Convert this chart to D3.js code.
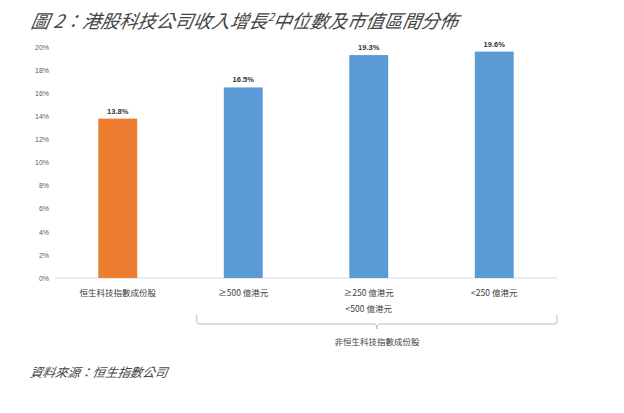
<!DOCTYPE html>
<html><head><meta charset="utf-8">
<script src="https://cdn.jsdelivr.net/npm/d3@7"></script>
<style>body{margin:0;background:#fff;}svg{display:block;}</style>
</head><body>
<svg id="c" width="624" height="413"></svg>
<script>
const categories = ["恒生科技指數成份股", "≥500 億港元", "≥250 億港元\n<500 億港元", "<250 億港元"];
const values = [13.8, 16.5, 19.3, 19.6];
const valueLabels = ["13.8%", "16.5%", "19.3%", "19.6%"];
const yTicks = [0, 2, 4, 6, 8, 10, 12, 14, 16, 18, 20];
const barColors = ["#ED7D31", "#5B9BD5", "#5B9BD5", "#5B9BD5"];
const groupLabel = "非恒生科技指數成份股";
const title = "圖 2：港股科技公司收入增長";
const title2 = "中位數及市值區間分佈";
const source = "資料來源：恒生指數公司";

(function () {
const svg = d3.select("#c");
const font = "'Noto Sans CJK TC','Noto Sans CJK SC',Arial,sans-serif";
const pL = 55, pR = 557, pT = 47, pB = 278;

const x = d3.scaleBand().domain(categories).range([pL, pR]).paddingInner(0.69).paddingOuter(0.345);
const y = d3.scaleLinear().domain([0, 20]).range([pB, pT]);

// title
const t = svg.append("text").attr("x", 30).attr("y", 28)
  .attr("font-family", font).attr("font-size", 18.5).attr("font-style", "italic")
  .attr("fill", "#444").attr("transform", "translate(5,0) skewX(-10)");
t.append("tspan").text(title);
t.append("tspan").attr("font-size", 11).attr("dy", -7).text("2");
t.append("tspan").attr("dy", 7).text(title2);

// y axis labels
const yAxis = d3.axisLeft(y).tickValues(yTicks).tickFormat(d => d + "%").tickSize(0).tickPadding(6);
const ga = svg.append("g").attr("transform", `translate(${pL},0)`).call(yAxis);
ga.select(".domain").remove();
ga.selectAll("text").attr("font-family", "Arial,'Liberation Sans',sans-serif").attr("font-size", 7).attr("fill", "#595959");

// baseline
svg.append("line").attr("x1", pL).attr("x2", pR).attr("y1", y(0)).attr("y2", y(0))
  .attr("stroke", "#d9d9d9").attr("stroke-width", 1);

// bars
svg.selectAll("rect.bar").data(values).join("rect").attr("class", "bar")
  .attr("x", (d, i) => x(categories[i])).attr("width", x.bandwidth())
  .attr("y", d => y(d)).attr("height", d => y(0) - y(d))
  .attr("fill", (d, i) => barColors[i]);

// value labels
svg.selectAll("text.val").data(values).join("text").attr("class", "val")
  .attr("x", (d, i) => x(categories[i]) + x.bandwidth() / 2)
  .attr("y", d => y(d) - 5).attr("text-anchor", "middle")
  .attr("font-family", "Arial,'Liberation Sans',sans-serif").attr("font-size", 7.5).attr("font-weight", "bold")
  .attr("fill", "#333").text((d, i) => valueLabels[i]);

// category labels
categories.forEach((c, i) => {
  const lines = c.split("\n");
  lines.forEach((ln, j) => {
    svg.append("text").attr("x", x(c) + x.bandwidth() / 2).attr("y", 296 + j * 16)
      .attr("text-anchor", "middle").attr("font-family", font).attr("font-size", 8.5)
      .attr("fill", "#404040").text(ln);
  });
});

// bracket
const bx1 = x(categories[1]) - 27;
const bx2 = pR;
const bmid = (bx1 + bx2) / 2;
const by = 324;
svg.append("path")
  .attr("d", `M${bx1},315 L${bx1},${by - 2} Q${bx1},${by} ${bx1 + 3},${by} L${bmid - 3},${by} Q${bmid},${by} ${bmid},${by + 5} Q${bmid},${by} ${bmid + 3},${by} L${bx2 - 3},${by} Q${bx2},${by} ${bx2},${by - 2} L${bx2},315`)
  .attr("fill", "none").attr("stroke", "#a9bed3").attr("stroke-width", 1);
svg.append("text").attr("x", bmid).attr("y", 345).attr("text-anchor", "middle")
  .attr("font-family", font).attr("font-size", 8.5).attr("fill", "#404040").text(groupLabel);

// source
svg.append("text").attr("x", 30).attr("y", 377).attr("font-family", font).attr("font-size", 12.5)
  .attr("font-style", "italic").attr("fill", "#444").attr("transform", "translate(66,0) skewX(-10)")
  .text(source);
})();
</script>
</body></html>
